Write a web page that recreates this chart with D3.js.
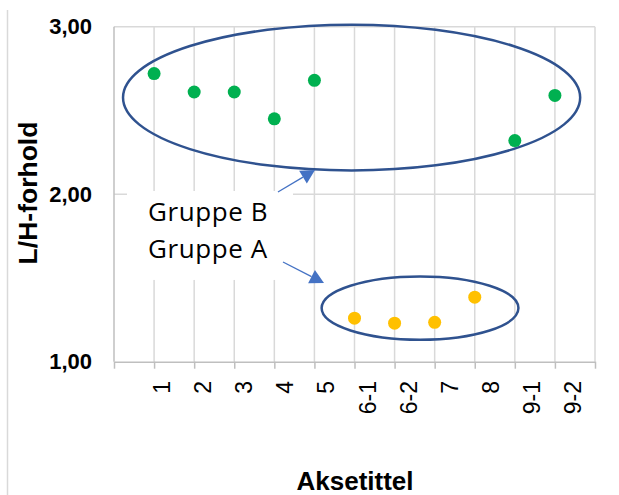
<!DOCTYPE html>
<html>
<head>
<meta charset="utf-8">
<script src="https://cdn.jsdelivr.net/npm/d3@7"></script>
<style>
  html, body { margin: 0; padding: 0; background: #fff; }
  svg { display: block; }
</style>
</head>
<body>
<svg id="chart" width="619" height="495"></svg>
<script>
// ---- data ----
const categories = ["1", "2", "3", "4", "5", "6-1", "6-2", "7", "8", "9-1", "9-2"];
const groupBCategories = ["1", "2", "3", "4", "5", "9-1", "9-2"];
const groupBValues = [2.72, 2.61, 2.61, 2.45, 2.68, 2.32, 2.59];
const groupACategories = ["6-1", "6-2", "7", "8"];
const groupAValues = [1.26, 1.23, 1.235, 1.385];
const yTicks = [1, 2, 3];
const yTitle = "L/H-forhold";
const xTitle = "Aksetittel";
const groupLabels = ["Gruppe B", "Gruppe A"];

// ---- layout ----
const W = 619, H = 495;
const plot = { left: 114, right: 595, top: 26.7, bottom: 361.7 };
const svg = d3.select("#chart");

const x = d3.scaleLinear().domain([0, categories.length + 1]).range([plot.left, plot.right]);
const y = d3.scaleLinear().domain([1, 3]).range([plot.bottom, plot.top]);
const idx = c => categories.indexOf(c) + 1;
// tick labels sit slightly right of their gridlines in the reference
const labelX = d3.scalePoint().domain(categories).range([x(1) + 8, x(categories.length) + 18]);

const gridColor = "#d9d9d9";
const axisColor = "#bfbfbf";

// outer frame edge on the left
svg.append("line").attr("x1", 7.5).attr("x2", 7.5).attr("y1", 10).attr("y2", H)
  .attr("stroke", gridColor).attr("stroke-width", 1.5);

// gridlines
const grid = svg.append("g");
grid.selectAll("line.v").data(d3.range(1, categories.length + 2)).join("line")
  .attr("x1", d => x(d)).attr("x2", d => x(d))
  .attr("y1", plot.top).attr("y2", plot.bottom)
  .attr("stroke", gridColor).attr("stroke-width", 1.5);
grid.selectAll("line.h").data(yTicks.slice(1)).join("line")
  .attr("x1", plot.left).attr("x2", plot.right)
  .attr("y1", d => y(d)).attr("y2", d => y(d))
  .attr("stroke", gridColor).attr("stroke-width", 1.5);

// axes
const xAxis = svg.append("g").attr("transform", `translate(0,${plot.bottom})`)
  .call(d3.axisBottom(x).tickValues(d3.range(0, categories.length + 2)).tickSize(7).tickSizeOuter(0).tickFormat(""));
xAxis.select(".domain").attr("stroke", axisColor).attr("stroke-width", 1.5);
xAxis.selectAll(".tick line").attr("stroke", axisColor).attr("stroke-width", 1.5);

svg.append("line").attr("x1", plot.left).attr("x2", plot.left)
  .attr("y1", plot.top).attr("y2", plot.bottom)
  .attr("stroke", axisColor).attr("stroke-width", 1.5);

// y tick labels
svg.append("g").selectAll("text").data(yTicks).join("text")
  .attr("x", 92).attr("y", d => y(d)).attr("dy", "0.35em")
  .attr("text-anchor", "end")
  .attr("font-family", "Liberation Sans, Arial, sans-serif")
  .attr("font-weight", "bold").attr("font-size", 22).attr("fill", "#000")
  .text(d => d3.format(".2f")(d).replace(".", ","));

// x tick labels (rotated)
svg.append("g").selectAll("text").data(categories).join("text")
  .attr("transform", d => `translate(${labelX(d)},381) rotate(-90)`)
  .attr("dy", "0.35em").attr("text-anchor", "end")
  .attr("font-family", "Liberation Sans, Arial, sans-serif")
  .attr("font-size", 23).attr("fill", "#000")
  .text(d => d);

// axis titles
svg.append("text")
  .attr("transform", `translate(28,193) rotate(-90)`)
  .attr("dy", "0.35em").attr("text-anchor", "middle")
  .attr("font-family", "Liberation Sans, Arial, sans-serif")
  .attr("font-weight", "bold").attr("font-size", 26.5).attr("fill", "#000")
  .text(yTitle);
svg.append("text")
  .attr("x", 355).attr("y", 490).attr("text-anchor", "middle")
  .attr("font-family", "Liberation Sans, Arial, sans-serif")
  .attr("font-weight", "bold").attr("font-size", 26).attr("fill", "#000")
  .text(xTitle);

// ---- annotations (in data coordinates) ----
const labelBox = { x0: 0.324, x1: 4.466, y0: 2.019, y1: 1.488 };
svg.append("rect")
  .attr("x", x(labelBox.x0)).attr("y", y(labelBox.y0))
  .attr("width", x(labelBox.x1) - x(labelBox.x0)).attr("height", y(labelBox.y1) - y(labelBox.y0))
  .attr("fill", "#fff");

const ellipses = [
  { x0: 0.225, x1: 11.63, y0: 3.012, y1: 2.142 },
  { x0: 5.18, x1: 10.09, y0: 1.509, y1: 1.131 }
];
svg.append("g").selectAll("ellipse").data(ellipses).join("ellipse")
  .attr("cx", d => (x(d.x0) + x(d.x1)) / 2).attr("cy", d => (y(d.y0) + y(d.y1)) / 2)
  .attr("rx", d => (x(d.x1) - x(d.x0)) / 2).attr("ry", d => (y(d.y1) - y(d.y0)) / 2)
  .attr("fill", "none").attr("stroke", "#2f528f").attr("stroke-width", 2.5);

const arrows = [
  { from: [4.09, 2.013], to: [5.015, 2.145] },
  { from: [4.216, 1.595], to: [5.239, 1.47] }
];
const arrowG = svg.append("g");
arrows.forEach(a => {
  const x1 = x(a.from[0]), y1 = y(a.from[1]), x2 = x(a.to[0]), y2 = y(a.to[1]);
  const dx = x2 - x1, dy = y2 - y1, L = Math.hypot(dx, dy);
  const ux = dx / L, uy = dy / L, px = -uy, py = ux;
  const hl = 14, hw = 7.5;
  const bx = x2 - ux * hl, by = y2 - uy * hl;
  arrowG.append("line").attr("x1", x1).attr("y1", y1).attr("x2", bx).attr("y2", by)
    .attr("stroke", "#4472c4").attr("stroke-width", 1.3);
  arrowG.append("path")
    .attr("d", `M${x2},${y2}L${bx + px * hw},${by + py * hw}L${bx - px * hw},${by - py * hw}Z`)
    .attr("fill", "#4472c4");
});

const labelPos = [[0.848, 1.838], [0.848, 1.619]];
svg.append("g").selectAll("text").data(groupLabels).join("text")
  .attr("x", (d, i) => x(labelPos[i][0])).attr("y", (d, i) => y(labelPos[i][1]))
  .attr("font-family", "Open Sans, sans-serif")
  .attr("font-size", 26).attr("letter-spacing", 0.6).attr("fill", "#000")
  .text(d => d);

// ---- points ----
svg.append("g").selectAll("circle").data(groupBCategories).join("circle")
  .attr("cx", d => x(idx(d))).attr("cy", (d, i) => y(groupBValues[i]))
  .attr("r", 6.5).attr("fill", "#00b050");
svg.append("g").selectAll("circle").data(groupACategories).join("circle")
  .attr("cx", d => x(idx(d))).attr("cy", (d, i) => y(groupAValues[i]))
  .attr("r", 6.5).attr("fill", "#ffc000");
</script>
</body>
</html>
